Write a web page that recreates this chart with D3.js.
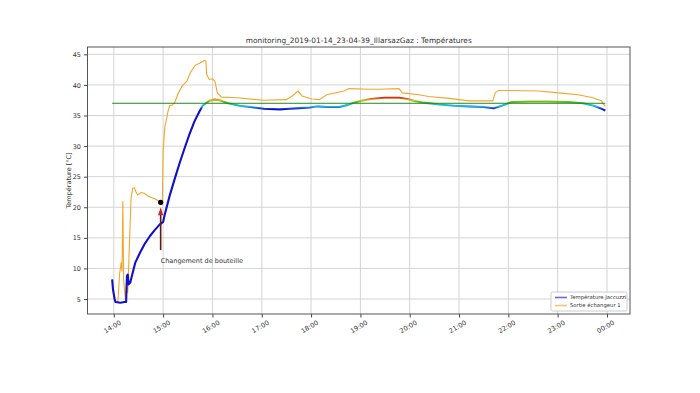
<!DOCTYPE html>
<html>
<head>
<meta charset="utf-8">
<script src="https://cdn.jsdelivr.net/npm/d3@7"></script>
<style>
  body { margin: 0; background: #fff; }
  svg text { font-family: "DejaVu Sans", sans-serif; fill: #333; }
</style>
</head>
<body>
<div id="chart"></div>
<script>
// Température Jaccuzzi (time, °C)
const jacTimes = ["13:58","13:59","14:01","14:02","14:08","14:13","14:15","14:16","14:17","14:18","14:20",
  "14:26","14:32","14:38","14:44","14:50","14:56","15:00","15:02","15:08","15:14","15:20","15:26","15:32",
  "15:38","15:44","15:48","15:52","15:56","16:03","16:09","16:19","16:33","16:51","17:03","17:22","17:33",
  "17:45","17:58","18:08","18:20","18:34","18:44","18:52","19:01","19:13","19:29","19:47","19:57","20:05",
  "20:17","20:36","20:54","21:12","21:30","21:42","21:52","22:04","22:25","22:49","23:13","23:31","23:44",
  "23:52","23:58"];
const jacValues = [8.2,6.6,5.0,4.5,4.4,4.5,4.5,8.8,9.0,7.4,7.7,
  10.9,12.6,14.1,15.3,16.3,17.2,17.6,18.8,21.9,24.6,27.2,29.6,31.9,
  34.0,35.6,36.6,37.0,37.4,37.6,37.5,37.0,36.6,36.3,36.1,36.0,36.1,
  36.2,36.3,36.5,36.4,36.4,36.7,37.1,37.4,37.7,37.9,37.9,37.7,37.4,
  37.1,36.8,36.6,36.5,36.4,36.2,36.6,37.2,37.3,37.3,37.2,37.0,36.6,
  36.2,35.8];

// Sortie échangeur 1 (time, °C)
const echTimes = ["13:58","14:00","14:02","14:05","14:07","14:09","14:10","14:11","14:12","14:14","14:16",
  "14:17","14:19","14:21","14:23","14:25","14:27","14:29","14:33","14:37","14:42","14:50","14:56","14:59",
  "15:00","15:02","15:06","15:08","15:11","15:14","15:18","15:23","15:29","15:33","15:39","15:45","15:50",
  "15:52","15:53","15:56","16:00","16:03","16:06","16:11","16:30","17:01","17:30","17:37","17:44","17:49",
  "18:01","18:10","18:19","18:40","18:46","19:11","19:23","19:47","19:51","20:11","20:23","20:48","21:12",
  "21:41","21:44","21:48","22:00","22:37","23:01","23:25","23:43","23:53","23:58"];
const echValues = [8.0,5.5,4.6,4.6,9.0,11.0,9.5,21.0,8.0,5.0,8.5,
  6.0,14.0,21.5,23.1,23.2,22.5,22.0,22.4,22.3,21.8,21.4,20.9,20.5,
  29.0,33.0,35.7,36.6,36.7,37.1,38.5,39.8,40.6,42.0,43.2,43.6,44.0,
  43.9,41.7,40.9,41.0,40.6,38.7,38.0,37.9,37.5,37.6,38.2,39.0,38.2,
  37.7,37.6,38.4,39.0,39.4,39.3,39.3,39.4,38.7,38.4,38.1,37.8,37.4,
  37.4,38.7,39.1,39.1,39.0,38.7,38.4,37.9,37.4,36.5];

const consigne = 37;
const yTicks = [5, 10, 15, 20, 25, 30, 35, 40, 45];
const annotTime = "14:57";
const annotDot = 20.8;
const annotArrow = [13.0, 20.0];
const annotText = "Changement de bouteille";
const titleText = "monitoring_2019-01-14_23-04-39_IllarsazGaz : Températures";
const seriesNames = ["Température Jaccuzzi", "Sortie échangeur 1"];

const W = 700, H = 393;
const margin = { top: 47, right: 70, bottom: 79, left: 87.5 };
const iw = W - margin.left - margin.right;
const ih = H - margin.top - margin.bottom;

const parse = d3.timeParse("%Y-%m-%d %H:%M");
function toDate(t) {
  const day = t < "12:00" ? "2019-01-15" : "2019-01-14";
  return parse(day + " " + t);
}
const jac = jacTimes.map((t, i) => ({ t: toDate(t), v: jacValues[i] }));
const ech = echTimes.map((t, i) => ({ t: toDate(t), v: echValues[i] }));

// matplotlib style 5% margins
const tExt = d3.extent(jac.concat(ech), d => d.t);
const pad = (tExt[1] - tExt[0]) * 0.05;
const x = d3.scaleTime()
  .domain([new Date(+tExt[0] - pad), new Date(+tExt[1] + pad)])
  .range([0, iw]);
const y = d3.scaleLinear().domain([2.55, 46.2]).range([ih, 0]);

const svg = d3.select("#chart").append("svg")
  .attr("width", W).attr("height", H);

const defs = svg.append("defs");
const g = svg.append("g").attr("transform", `translate(${margin.left},${margin.top})`);

// grid
const hourTicks = x.ticks(d3.timeHour.every(1));
g.append("g").selectAll("line").data(hourTicks).enter().append("line")
  .attr("x1", d => x(d)).attr("x2", d => x(d))
  .attr("y1", 0).attr("y2", ih)
  .attr("stroke", "#d4d4d4").attr("stroke-width", 1);
g.append("g").selectAll("line").data(yTicks).enter().append("line")
  .attr("x1", 0).attr("x2", iw)
  .attr("y1", d => y(d)).attr("y2", d => y(d))
  .attr("stroke", "#d4d4d4").attr("stroke-width", 1);

// colour of the jacuzzi points depends on temperature
const tempColor = d3.scaleLinear()
  .domain([36.0, 36.25, 36.5, 36.8, 37.0, 37.3, 37.5, 37.7, 37.9, 38.1])
  .range(["#1010c8", "#2060e0", "#20b8e0", "#20c0a0", "#30a838", "#78bc20", "#d8c020", "#e08020", "#d83a10", "#b81010"])
  .clamp(true);
const grad = defs.append("linearGradient")
  .attr("id", "tempGrad")
  .attr("gradientUnits", "userSpaceOnUse")
  .attr("x1", 0).attr("x2", 0)
  .attr("y1", y(35.8)).attr("y2", y(38.3));
d3.range(35.8, 38.31, 0.05).forEach(v => {
  grad.append("stop")
    .attr("offset", (v - 35.8) / 2.5)
    .attr("stop-color", tempColor(v));
});

const line = d3.line().x(d => x(d.t)).y(d => y(d.v));

// Sortie échangeur 1
g.append("path").datum(ech)
  .attr("d", line)
  .attr("fill", "none")
  .attr("stroke", "#f2a72a")
  .attr("stroke-width", 1.1);

// Température Jaccuzzi
g.append("path").datum(jac)
  .attr("d", line)
  .attr("fill", "none")
  .attr("stroke", "url(#tempGrad)")
  .attr("stroke-width", 2.1)
  .attr("stroke-linejoin", "round");

// consigne
g.append("line")
  .attr("x1", x(tExt[0])).attr("x2", x(tExt[1]))
  .attr("y1", y(consigne)).attr("y2", y(consigne))
  .attr("stroke", "#1f8a1f").attr("stroke-width", 1);

// annotation
const ax = x(toDate(annotTime));
g.append("line")
  .attr("x1", ax).attr("x2", ax)
  .attr("y1", y(annotArrow[0])).attr("y2", y(annotArrow[1]) + 6)
  .attr("stroke", "#5a1e14").attr("stroke-width", 1.6);
g.append("path")
  .attr("d", `M${ax},${y(annotArrow[1])} L${ax - 2.6},${y(annotArrow[1]) + 8} L${ax + 2.6},${y(annotArrow[1]) + 8} Z`)
  .attr("fill", "#c8281e");
g.append("circle")
  .attr("cx", ax).attr("cy", y(annotDot)).attr("r", 2.6)
  .attr("fill", "#000");
g.append("text")
  .attr("x", ax).attr("y", y(annotArrow[0]) + 13)
  .attr("font-size", 6.5)
  .text(annotText);

// axes
const xAxis = g.append("g")
  .attr("transform", `translate(0,${ih})`)
  .call(d3.axisBottom(x).tickValues(hourTicks).tickFormat(d3.timeFormat("%H:%M")).tickSize(3.5));
xAxis.selectAll("text")
  .attr("font-size", 6.5)
  .attr("text-anchor", "end")
  .attr("dx", "0.2em").attr("dy", "0.9em")
  .attr("transform", "rotate(-30)");

const yAxis = g.append("g")
  .call(d3.axisLeft(y).tickValues(yTicks).tickSize(3.5));
yAxis.selectAll("text").attr("font-size", 6.5);

svg.selectAll(".domain").remove();
g.selectAll(".tick line").attr("stroke", "#444");
g.selectAll(".tick text").attr("fill", "#333");

g.append("rect")
  .attr("width", iw).attr("height", ih)
  .attr("fill", "none").attr("stroke", "#555").attr("stroke-width", 1);

// title & label
svg.append("text")
  .attr("x", margin.left + iw / 2).attr("y", margin.top - 4)
  .attr("text-anchor", "middle")
  .attr("font-size", 7.4)
  .text(titleText);
svg.append("text")
  .attr("transform", `translate(71,${margin.top + ih / 2}) rotate(-90)`)
  .attr("text-anchor", "middle")
  .attr("font-size", 6.5)
  .text("Température [°C]");

// legend
const lg = g.append("g").attr("transform", `translate(${iw - 79},${ih - 22})`);
lg.append("rect")
  .attr("width", 76).attr("height", 19)
  .attr("fill", "#fff").attr("stroke", "#ccc").attr("rx", 1.5);
const legColors = ["#6a6ae6", "#f6c27a"];
seriesNames.forEach((name, i) => {
  const row = lg.append("g").attr("transform", `translate(4,${5.5 + i * 8})`);
  row.append("line").attr("x1", 0).attr("x2", 12)
    .attr("stroke", legColors[i]).attr("stroke-width", 1.6);
  row.append("text").attr("x", 15).attr("dy", "0.35em")
    .attr("font-size", 5.3).text(name);
});
</script>
</body>
</html>
